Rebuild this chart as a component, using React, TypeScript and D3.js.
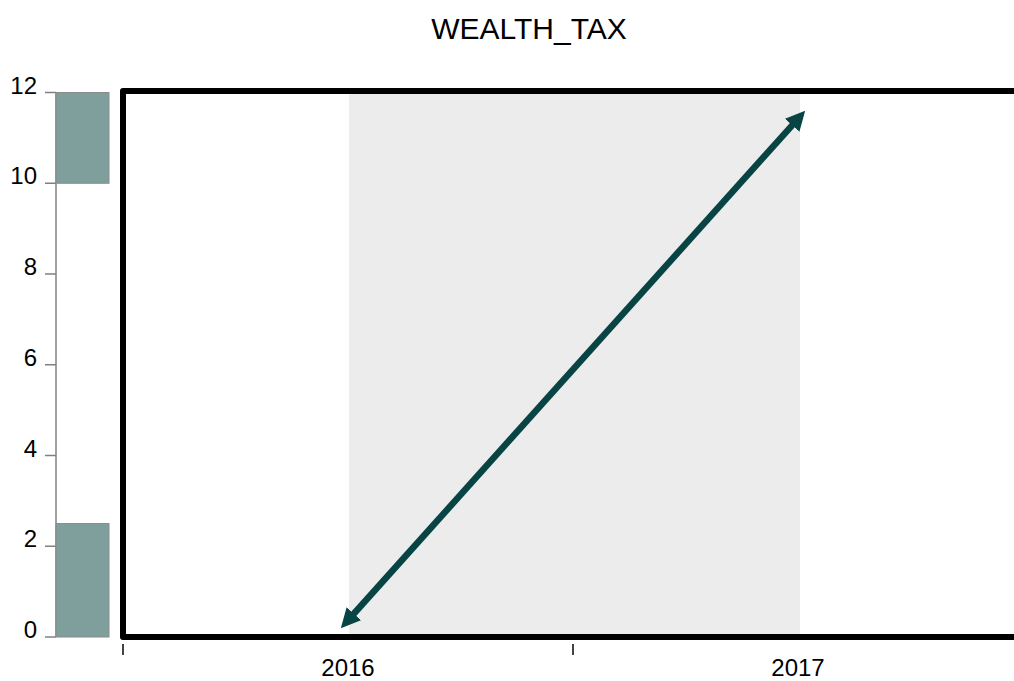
import React from "react";
import * as d3 from "d3";

const title = "WEALTH_TAX";
const years = ["2016", "2017"];
const lineValues = [0.37, 11.42];
const barRanges: [number, number][] = [
  [0, 2.5],
  [10, 12],
];
const yTicks = [0, 2, 4, 6, 8, 10, 12];

const W = 1014;
const H = 681;

export default function App() {
  const x = d3.scaleBand<string>().domain(years).range([123, 1023]).padding(0);
  const y = d3.scaleLinear().domain([0, 12]).range([637, 92.5]);
  const cx = (d: string) => (x(d) as number) + x.bandwidth() / 2;

  const pts: [number, number][] = years.map((yr, i) => [cx(yr), y(lineValues[i])]);
  const lineGen = d3.line();
  const lineColor = "#084444";

  return (
    <svg
      width={W}
      height={H}
      style={{ position: "absolute", left: 0, top: 0, fontFamily: "'Liberation Sans', Arial, sans-serif" }}
    >
      <defs>
        <marker
          id="arrow"
          viewBox="0 0 10 10"
          refX="4.5"
          refY="5"
          markerWidth="3"
          markerHeight="3"
          markerUnits="strokeWidth"
          orient="auto-start-reverse"
        >
          <path d="M0,0 L10,5 L0,10 Z" fill={lineColor} strokeLinejoin="round" />
        </marker>
      </defs>
      <text x={529} y={39} textAnchor="middle" fontSize={30} fill="#000">
        {title}
      </text>

      {/* shaded band between the two year centers */}
      <rect
        x={cx(years[0]) + 1}
        y={y(12)}
        width={cx(years[1]) - cx(years[0]) + 1}
        height={y(0) - y(12)}
        fill="#ececec"
      />

      {/* left axis */}
      <line x1={56} x2={56} y1={y(0)} y2={y(12)} stroke="#808080" strokeWidth={1.5} />
      {yTicks.map((t) => (
        <g key={t}>
          <line x1={45} x2={56} y1={y(t)} y2={y(t)} stroke="#808080" strokeWidth={1.5} />
          <text x={37} y={y(t) + 1} textAnchor="end" fontSize={24} fill="#000">
            {t}
          </text>
        </g>
      ))}

      {/* bars on the axis */}
      {barRanges.map(([a, b], i) => (
        <rect
          key={i}
          x={56}
          y={y(b)}
          width={53}
          height={y(a) - y(b)}
          fill="#7f9f9c"
          stroke="#8a8a8a"
          strokeWidth={1}
        />
      ))}

      {/* frame */}
      <rect
        x={123}
        y={91}
        width={900}
        height={546}
        fill="none"
        stroke="#000"
        strokeWidth={6}
        strokeLinejoin="round"
      />

      {/* bottom axis ticks and labels */}
      {years.map((yr) => (
        <g key={yr}>
          <line
            x1={x(yr) as number}
            x2={x(yr) as number}
            y1={644}
            y2={655}
            stroke="#444"
            strokeWidth={2}
          />
          <text x={cx(yr)} y={676} textAnchor="middle" fontSize={24} fill="#000">
            {yr}
          </text>
        </g>
      ))}

      {/* line with arrowheads */}
      <path
        d={lineGen(pts) as string}
        fill="none"
        stroke={lineColor}
        strokeWidth={6.5}
        markerStart="url(#arrow)"
        markerEnd="url(#arrow)"
      />
    </svg>
  );
}
